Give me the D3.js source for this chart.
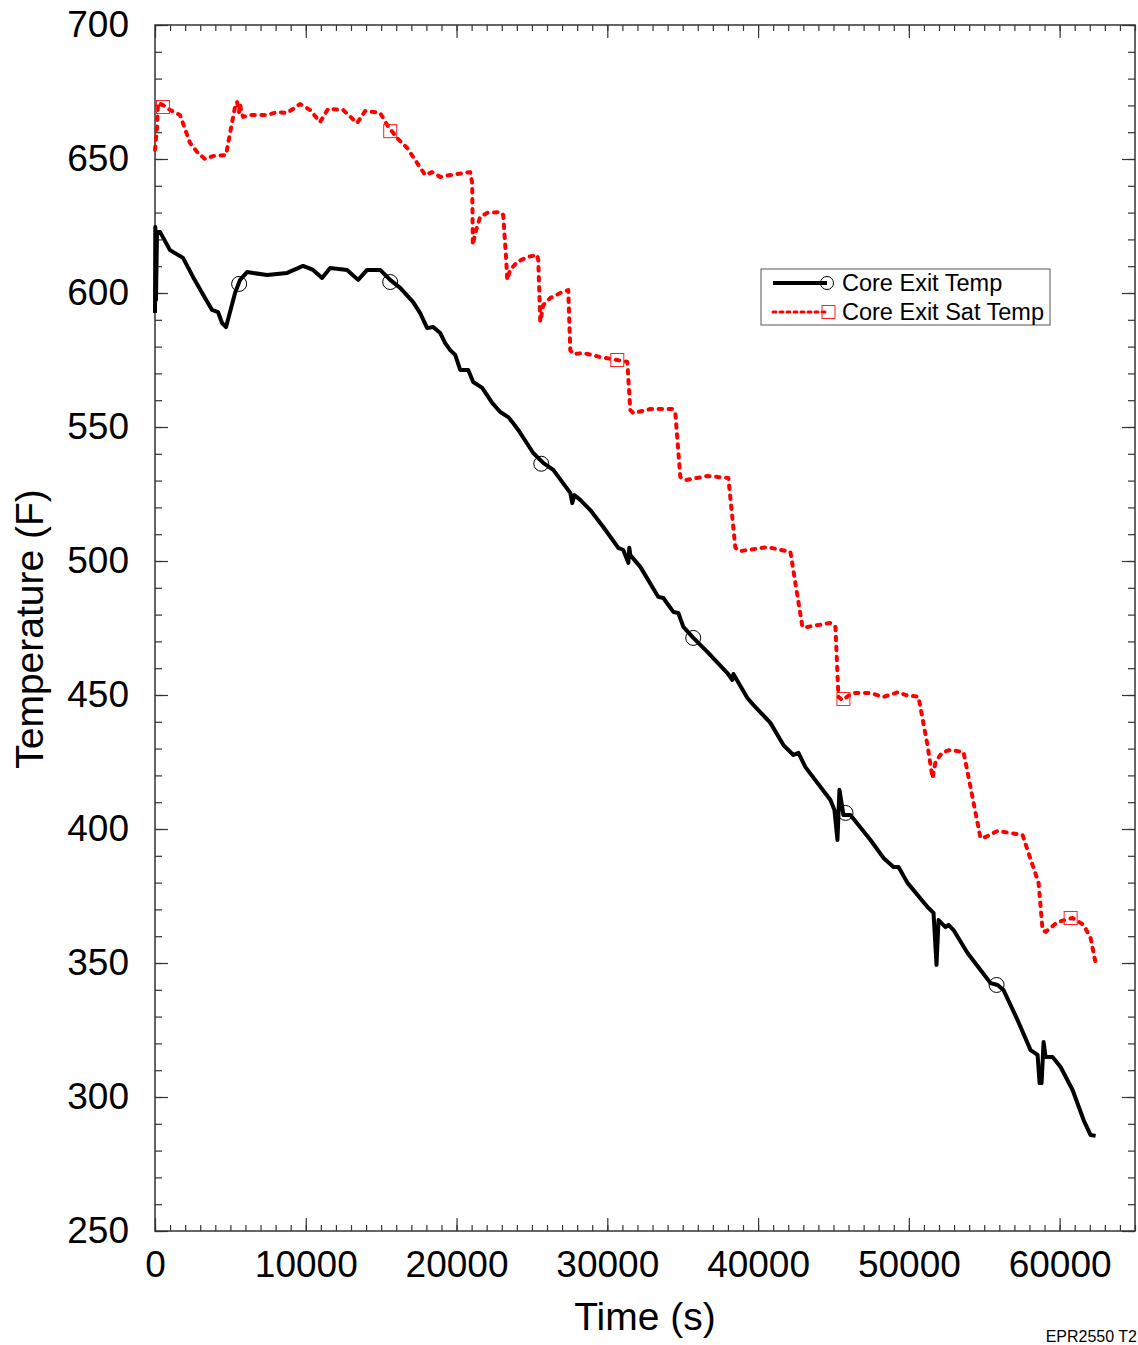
<!DOCTYPE html>
<html>
<head>
<meta charset="utf-8">
<script src="https://cdn.jsdelivr.net/npm/d3@7"></script>
<style>
  body { margin: 0; background: #fff; }
  text { font-family: "Liberation Sans", Arial, sans-serif; fill: #000; }
</style>
</head>
<body>
<div id="chart"></div>
<script>
// Core exit temperature (black, solid) — [time s, temp F]
const coreExitTemp = [
  [0, 592.5], [20, 624.6], [66, 597.4], [133, 622.8], [332, 622.8], [996, 616.0],
  [1858, 613.1], [2522, 606.0], [3318, 598.1], [3783, 593.7], [4181, 592.9], [4447, 588.8],
  [4712, 587.3], [5310, 600.0], [5641, 604.9], [6106, 607.8], [7433, 606.7], [8761, 607.5],
  [9823, 610.1], [10486, 608.6], [11084, 605.6], [11615, 609.3], [12743, 608.6], [13473, 604.9],
  [14070, 608.6], [14933, 608.6], [15597, 604.9], [16261, 601.9], [17123, 596.6], [17588, 592.5],
  [18053, 586.9], [18451, 587.3], [18915, 585.1], [19247, 581.3], [19579, 578.7], [19911, 576.9],
  [20243, 571.3], [20774, 571.3], [21106, 566.8], [21703, 564.6], [22366, 559.0], [22898, 555.6],
  [23429, 553.7], [23694, 551.9], [24092, 548.9], [25088, 540.3], [25752, 536.6], [26415, 534.0],
  [27544, 525.4], [27677, 521.6], [27810, 524.6], [28207, 522.8], [28871, 519.0], [29734, 512.7],
  [30729, 504.9], [31061, 504.1], [31393, 499.3], [31459, 504.9], [31526, 502.2], [32190, 497.8],
  [33384, 486.6], [33716, 486.2], [34380, 481.0], [34711, 480.6], [35043, 475.4], [35707, 471.3],
  [36636, 466.1], [37964, 458.2], [38296, 455.6], [38362, 457.8], [39291, 448.9], [39689, 446.3],
  [40818, 439.6], [41680, 431.3], [42344, 427.6], [42676, 428.4], [43141, 423.1], [44800, 410.8],
  [45065, 407.1], [45264, 395.9], [45397, 414.6], [45663, 405.2], [46127, 405.2], [47455, 395.9],
  [48317, 389.2], [48981, 385.8], [49313, 385.8], [49910, 379.9], [51238, 370.9], [51636, 368.7],
  [51835, 349.3], [51968, 366.0], [52432, 363.4], [52631, 364.2], [52963, 362.3], [53892, 353.7],
  [54755, 347.4], [55419, 342.5], [55884, 341.8], [56282, 339.9], [57211, 328.7], [58074, 317.5],
  [58538, 315.7], [58671, 305.2], [58804, 305.2], [58937, 320.5], [59069, 314.9], [59534, 314.9],
  [60065, 311.2], [60861, 302.6], [61591, 291.4], [62056, 285.8], [62388, 285.5]
];

// Core exit saturation temperature (red, dotted)
const coreExitSatTemp = [
  [0, 653.4], [133, 661.9], [199, 670.9], [531, 670.1], [996, 668.3], [1659, 666.4],
  [2323, 656.0], [2854, 652.2], [3318, 650.0], [3849, 651.1], [4712, 651.5], [4978, 659.7],
  [5310, 669.4], [5442, 671.3], [5575, 667.5], [5641, 670.5], [5708, 668.3], [5841, 665.7],
  [6305, 666.4], [7433, 666.4], [8097, 667.5], [8761, 667.2], [9624, 670.5], [10287, 668.3],
  [10951, 663.8], [11482, 668.7], [12478, 668.3], [13407, 663.4], [13938, 667.9], [14933, 667.2],
  [15398, 662.7], [16062, 657.8], [16725, 654.1], [17389, 648.5], [17920, 644.0], [18384, 645.1],
  [18915, 643.3], [19579, 644.0], [20907, 645.1], [21039, 641.0], [21080, 617.9], [21238, 622.4],
  [21570, 628.4], [22035, 629.9], [22898, 630.2], [23097, 629.1], [23296, 612.3], [23362, 604.9],
  [23561, 608.6], [24026, 611.6], [24690, 613.4], [25353, 614.2], [25420, 612.3], [25553, 589.2],
  [25752, 595.5], [26216, 598.1], [26880, 600.0], [27411, 601.1], [27544, 578.7], [27743, 577.2],
  [28406, 577.6], [29535, 576.1], [30663, 575.0], [31327, 574.3], [31526, 556.3], [31725, 555.2],
  [32853, 556.7], [34313, 556.7], [34512, 555.2], [34844, 531.3], [35176, 530.2], [36636, 531.7],
  [38030, 531.0], [38495, 504.9], [38826, 503.7], [40618, 505.2], [42145, 503.4], [42941, 475.4],
  [43273, 475.4], [44800, 476.9], [45132, 475.4], [45331, 449.3], [45597, 448.1], [46260, 450.7],
  [47455, 450.7], [48317, 449.3], [49313, 451.1], [49778, 450.0], [50640, 449.3], [51238, 431.3],
  [51570, 419.0], [51769, 425.0], [52233, 428.7], [52764, 429.5], [53627, 428.7], [53959, 419.4],
  [54755, 396.6], [55087, 397.0], [55884, 399.3], [56746, 398.5], [57543, 397.8], [57941, 391.0],
  [58605, 379.9], [58870, 362.3], [59069, 361.6], [59866, 365.3], [60861, 366.8], [61591, 364.2],
  [62056, 359.3], [62388, 350.0]
];

// symbol markers
const circleMarkers = [[5580, 603.4], [15600, 604.1], [25620, 536.3], [35700, 471.3], [45800, 406.0], [55820, 341.8]];
const squareMarkers = [[530, 669.4], [15600, 660.4], [30660, 575.0], [45660, 448.5], [60730, 366.8]];

const xTicks = [0, 10000, 20000, 30000, 40000, 50000, 60000];
const yTicks = [250, 300, 350, 400, 450, 500, 550, 600, 650, 700];

const W = 1138, H = 1345;
const margin = { top: 25, right: 3, bottom: 114, left: 155 };
const width = W - margin.left - margin.right;
const height = H - margin.top - margin.bottom;

const svg = d3.select("#chart").append("svg")
  .attr("width", W).attr("height", H);

const g = svg.append("g")
  .attr("transform", `translate(${margin.left},${margin.top})`);

const x = d3.scaleLinear().domain([0, 65000]).range([0, width]);
const y = d3.scaleLinear().domain([250, 700]).range([height, 0]);

const axisColor = "#333";
const minorX = d3.range(0, 65001, 1000);
const minorY = d3.range(250, 701, 10);

function styleAxis(sel) {
  sel.select(".domain").remove();
  sel.selectAll(".tick line").attr("stroke", axisColor).attr("stroke-width", 1.2);
  sel.selectAll("text")
    .attr("font-size", "37px")
    .attr("font-family", "'Liberation Sans', Arial, sans-serif")
    .attr("fill", "#000");
}

// minor ticks, all four sides
g.append("g").attr("transform", `translate(0,${height})`)
  .call(d3.axisBottom(x).tickValues(minorX).tickFormat("").tickSize(-6)).call(styleAxis);
g.append("g")
  .call(d3.axisTop(x).tickValues(minorX).tickFormat("").tickSize(-6)).call(styleAxis);
g.append("g")
  .call(d3.axisLeft(y).tickValues(minorY).tickFormat("").tickSize(-7)).call(styleAxis);
g.append("g").attr("transform", `translate(${width},0)`)
  .call(d3.axisRight(y).tickValues(minorY).tickFormat("").tickSize(-7)).call(styleAxis);

// major ticks
g.append("g").attr("transform", `translate(0,${height})`)
  .call(d3.axisBottom(x).tickValues(xTicks).tickFormat(d3.format("d")).tickSize(-13).tickPadding(20))
  .call(styleAxis);
g.append("g")
  .call(d3.axisTop(x).tickValues(xTicks).tickFormat("").tickSize(-13)).call(styleAxis);
g.append("g")
  .call(d3.axisLeft(y).tickValues(yTicks).tickFormat(d3.format("d")).tickSize(-13).tickPadding(26))
  .call(styleAxis);
g.append("g").attr("transform", `translate(${width},0)`)
  .call(d3.axisRight(y).tickValues(yTicks).tickFormat("").tickSize(-13)).call(styleAxis);

// frame
g.append("rect")
  .attr("width", width).attr("height", height)
  .attr("fill", "none").attr("stroke", axisColor).attr("stroke-width", 1.5);

const line = d3.line().x(d => x(d[0])).y(d => y(d[1]));

g.append("path")
  .datum(coreExitSatTemp)
  .attr("d", line)
  .attr("fill", "none")
  .attr("stroke", "#ff0000")
  .attr("stroke-width", 4)
  .attr("stroke-linecap", "round")
  .attr("stroke-linejoin", "round")
  .attr("stroke-dasharray", "3.5,6.5");

g.append("path")
  .datum(coreExitTemp)
  .attr("d", line)
  .attr("fill", "none")
  .attr("stroke", "#000")
  .attr("stroke-width", 4)
  .attr("stroke-linejoin", "round");

g.selectAll("circle.mk")
  .data(circleMarkers)
  .join("circle")
  .attr("class", "mk")
  .attr("cx", d => x(d[0]))
  .attr("cy", d => y(d[1]))
  .attr("r", 7.5)
  .attr("fill", "none")
  .attr("stroke", "#000")
  .attr("stroke-width", 1);

g.selectAll("rect.mk")
  .data(squareMarkers)
  .join("rect")
  .attr("class", "mk")
  .attr("x", d => x(d[0]) - 6.5)
  .attr("y", d => y(d[1]) - 6.5)
  .attr("width", 13).attr("height", 13)
  .attr("fill", "none")
  .attr("stroke", "#f22")
  .attr("stroke-width", 1);

// axis titles
svg.append("text")
  .attr("x", 645).attr("y", 1330)
  .attr("text-anchor", "middle")
  .attr("font-size", "39px")
  .text("Time (s)");

svg.append("text")
  .attr("transform", "translate(43,629) rotate(-90)")
  .attr("text-anchor", "middle")
  .attr("font-size", "39px")
  .text("Temperature (F)");

svg.append("text")
  .attr("x", 1137).attr("y", 1342)
  .attr("text-anchor", "end")
  .attr("font-size", "16px")
  .text("EPR2550 T2");

// legend
const legend = svg.append("g").attr("transform", "translate(761,269)");
legend.append("rect")
  .attr("width", 289).attr("height", 56)
  .attr("fill", "#fff").attr("stroke", "#555").attr("stroke-width", 1);

const legendItems = [
  { label: "Core Exit Temp", color: "#000", dash: null, width: 4, marker: "circle" },
  { label: "Core Exit Sat Temp", color: "#ff0000", dash: "3,4", width: 3, marker: "square" }
];

legendItems.forEach((it, i) => {
  const cy = 14 + i * 29;
  legend.append("line")
    .attr("x1", 12).attr("x2", 66)
    .attr("y1", cy).attr("y2", cy)
    .attr("stroke", it.color)
    .attr("stroke-width", it.width)
    .attr("stroke-linecap", it.dash ? "round" : "butt")
    .attr("stroke-dasharray", it.dash);
  if (it.marker === "circle") {
    legend.append("circle")
      .attr("cx", 66).attr("cy", cy).attr("r", 6.5)
      .attr("fill", "none").attr("stroke", "#000").attr("stroke-width", 1);
  } else {
    legend.append("rect")
      .attr("x", 61).attr("y", cy - 6.5).attr("width", 13).attr("height", 13)
      .attr("fill", "none").attr("stroke", "#f22").attr("stroke-width", 1);
  }
  legend.append("text")
    .attr("x", 81).attr("y", cy + 8)
    .attr("font-size", "23.5px")
    .text(it.label);
});
</script>
</body>
</html>
